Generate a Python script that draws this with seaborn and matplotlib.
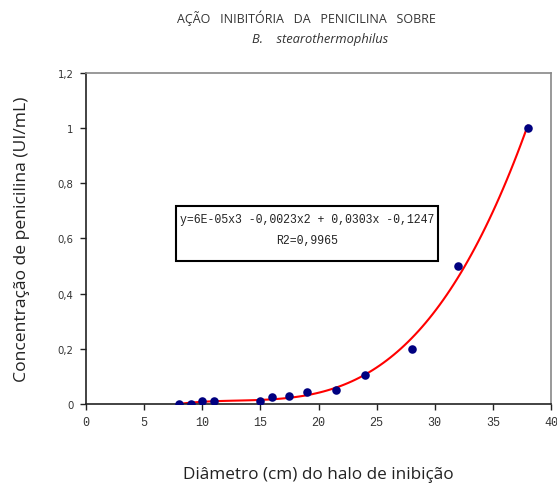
import matplotlib
matplotlib.use("Agg")
import matplotlib.pyplot as plt
import seaborn as sns
import pandas as pd
import numpy as np

# Data
diametro = [8, 9, 10, 11, 15, 16, 17.5, 19, 21.5, 24, 28, 32, 38]
concentracao = [0.0, 0.0, 0.01, 0.01, 0.01, 0.024, 0.029, 0.042, 0.052, 0.104, 0.2, 0.5, 1.0]
x_ticks = [0, 5, 10, 15, 20, 25, 30, 35, 40]
y_ticks = [0, 0.2, 0.4, 0.6, 0.8, 1.0, 1.2]
y_tick_labels = ["0", "0,2", "0,4", "0,6", "0,8", "1", "1,2"]
equacao = "y=6E-05x3 -0,0023x2 + 0,0303x -0,1247"
r2 = "R2=0,9965"

df = pd.DataFrame({"diametro": diametro, "concentracao": concentracao})

sns.set_theme(style="white")
plt.rcParams["font.family"] = ["Open Sans", "DejaVu Sans"]

fig = plt.figure(figsize=(5.57, 4.85), dpi=100)
ax = fig.add_axes([86/557, 1-405/485, (551-86)/557, (405-74)/485])

sns.regplot(data=df, x="diametro", y="concentracao", order=3, ci=None,
            scatter=False, ax=ax, truncate=True,
            line_kws=dict(color="#ff0000", lw=1.5))
sns.scatterplot(data=df, x="diametro", y="concentracao", ax=ax,
                color="#000080", s=38, edgecolor="#000080", linewidth=0, zorder=3)

ax.set_xlim(0, 40)
ax.set_ylim(0, 1.2)
ax.set_xticks(x_ticks)
ax.set_xticklabels([str(t) for t in x_ticks], family="Liberation Mono", fontsize=8.5, color="#333333")
ax.set_yticks(y_ticks)
ax.set_yticklabels(y_tick_labels, family="DejaVu Sans", fontsize=7.3, color="#333333")
ax.tick_params(axis="both", direction="out", length=4, width=1, color="#222222",
               bottom=True, left=True, pad=5)

for side in ["left", "bottom"]:
    ax.spines[side].set_color("#222222")
    ax.spines[side].set_linewidth(1.2)
for side in ["top", "right"]:
    ax.spines[side].set_color("#888888")
    ax.spines[side].set_linewidth(1.2)
ax.grid(False)

ax.set_xlabel("Diâmetro (cm) do halo de inibição", fontsize=12.3, color="#222222", labelpad=27)
ax.set_ylabel("Concentração de penicilina (UI/mL)", fontsize=12.6, color="#222222", labelpad=20)

fig.text(306/557, 1-18/485, "AÇÃO   INIBITÓRIA   DA   PENICILINA   SOBRE",
         ha="center", va="center", fontsize=9, color="#333333")
fig.text(320/557, 1-40/485, "B.    stearothermophilus", ha="center", va="center",
         fontsize=9.3, style="italic", color="#333333")

# equation box
bx0, by0, bx1, by1 = 176, 207, 438, 262
rect = plt.Rectangle((bx0/557, 1-by1/485), (bx1-bx0)/557, (by1-by0)/485,
                     transform=fig.transFigure, fill=True, facecolor="white",
                     edgecolor="black", linewidth=1.5, zorder=5)
fig.patches.append(rect)
fig.text((bx0+bx1)/2/557, 1-220/485, equacao, ha="center", va="center",
         family="Liberation Mono", fontsize=8.3, color="#222222", zorder=6)
fig.text((bx0+bx1)/2/557, 1-241/485, r2, ha="center", va="center",
         family="Liberation Mono", fontsize=8.3, color="#222222", zorder=6)

fig.savefig("out.png", dpi=100)
